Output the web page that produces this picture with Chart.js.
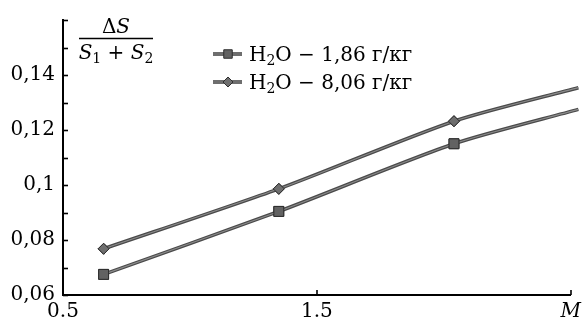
<!DOCTYPE html>
<html><head><meta charset="utf-8">
<script src="https://cdn.jsdelivr.net/npm/chart.js@4"></script>
<style>html,body{margin:0;padding:0;background:#fff}#w{width:586px;height:322px}</style>
</head><body><div id="w"><canvas id="c" width="586" height="322"></canvas></div>
<script>
// ---- data ----
const mValues = [0.66, 1.35, 2.04, 2.53];
const series186 = [0.0675, 0.0904, 0.1150, 0.1275];
const series806 = [0.0768, 0.0986, 0.1232, 0.1354];
const seriesLabels = ['H₂O − 1,86 г/кг', 'H₂O − 8,06 г/кг'];
const xTickValues = [0.5, 1.5, 2.5];
const xTickLabels = ['0.5', '1.5', 'M'];
const yTickValues = [0.06, 0.08, 0.10, 0.12, 0.14];
const yTickLabels = ['0,06', '0,08', '0,1', '0,12', '0,14'];
const yTitleNum = 'ΔS';
const yTitleDen = 'S₁ + S₂';

const FONT = '"DejaVu Serif", "Liberation Serif", serif';
const FS = 20;
const LINE = '#4a4a4a';
const LINE_INNER = '#8c8c8c';

function toPts(ys){ return mValues.map((m,i)=>({x:m,y:ys[i]})); }

function drawRich(ctx, text, x, y, size, italicLetters){
  const subs = '₀₁₂₃₄₅₆₇₈₉';
  let cx = x;
  for (const ch of text){
    const si = subs.indexOf(ch);
    if (si >= 0){
      ctx.font = Math.round(size*0.7) + 'px ' + FONT;
      ctx.fillText(String(si), cx, y + size*0.22);
      cx += ctx.measureText(String(si)).width;
    } else {
      const it = italicLetters && /[A-Za-z]/.test(ch);
      ctx.font = (it ? 'italic ' : '') + size + 'px ' + FONT;
      ctx.fillText(ch, cx, y);
      cx += ctx.measureText(ch).width;
    }
  }
  return cx - x;
}
function measureRich(ctx, text, size, italicLetters){
  const subs = '₀₁₂₃₄₅₆₇₈₉';
  let w = 0;
  for (const ch of text){
    const si = subs.indexOf(ch);
    if (si >= 0){ ctx.font = Math.round(size*0.7)+'px '+FONT; w += ctx.measureText(String(si)).width; }
    else { const it = italicLetters && /[A-Za-z]/.test(ch); ctx.font=(it?'italic ':'')+size+'px '+FONT; w += ctx.measureText(ch).width; }
  }
  return w;
}

const decor = {
  id: 'decor',
  afterDatasetsDraw(chart){
    const ctx = chart.ctx;
    ctx.save();
    chart.data.datasets.forEach((ds, i)=>{
      const meta = chart.getDatasetMeta(i);
      ctx.strokeStyle = LINE_INNER; ctx.lineWidth = 1.1; ctx.lineJoin = 'round';
      ctx.beginPath(); meta.dataset.path(ctx); ctx.stroke();
      meta.data.forEach(p => p.draw(ctx, chart.chartArea));
    });
    ctx.restore();
  },
  afterDraw(chart){
    const {ctx, chartArea:a, scales:{x, y}} = chart;
    ctx.save();
    ctx.strokeStyle = '#000'; ctx.lineWidth = 1.6;
    for (let v = 0.06; v <= 0.1601; v += 0.01){
      const py = Math.round(y.getPixelForValue(v)) + 0.5;
      ctx.beginPath(); ctx.moveTo(a.left, py); ctx.lineTo(a.left + 5, py); ctx.stroke();
    }
    xTickValues.forEach(v=>{
      const px = Math.round(x.getPixelForValue(v));
      ctx.beginPath(); ctx.moveTo(px, a.bottom); ctx.lineTo(px, a.bottom - 5); ctx.stroke();
    });
    // y title as fraction
    ctx.fillStyle = '#000'; ctx.textBaseline = 'alphabetic';
    const size = FS;
    const barL = a.left + 16, barR = a.left + 90, cx = (barL + barR)/2;
    ctx.font = size + 'px ' + FONT;
    const wD = ctx.measureText('Δ').width;
    ctx.font = 'italic ' + size + 'px ' + FONT;
    const wS = ctx.measureText('S').width;
    let nx = cx - (wD + wS)/2;
    ctx.font = size + 'px ' + FONT; ctx.fillText('Δ', nx, 33);
    ctx.font = 'italic ' + size + 'px ' + FONT; ctx.fillText('S', nx + wD, 33);
    ctx.lineWidth = 1.3;
    ctx.beginPath(); ctx.moveTo(barL, 38.5); ctx.lineTo(barR, 38.5); ctx.stroke();
    const wDen = measureRich(ctx, yTitleDen, size, true);
    drawRich(ctx, yTitleDen, cx - wDen/2, 59, size, true);
    // legend
    chart.data.datasets.forEach((ds, i)=>{
      const ly = 54 + 28*i;
      ctx.strokeStyle = ds.borderColor; ctx.lineWidth = ds.borderWidth;
      ctx.beginPath(); ctx.moveTo(213, ly); ctx.lineTo(242, ly); ctx.stroke();
      ctx.strokeStyle = LINE_INNER; ctx.lineWidth = 1.1;
      ctx.beginPath(); ctx.moveTo(213, ly); ctx.lineTo(242, ly); ctx.stroke();
      ctx.fillStyle = ds.pointBackgroundColor; ctx.strokeStyle = ds.pointBorderColor;
      ctx.lineWidth = 1;
      Chart.helpers.drawPoint(ctx, {pointStyle: ds.pointStyle, radius: ds.legendRadius, rotation: 0, borderWidth: 1}, 228, ly);
      ctx.fillStyle = '#000';
      drawRich(ctx, ds.label, 249, ly + 7, FS, false);
    });
    ctx.restore();
  }
};

new Chart(document.getElementById('c'), {
  type: 'scatter',
  data: {
    datasets: [
      { label: seriesLabels[0], data: toPts(series186), showLine: true,
        borderColor: LINE, borderWidth: 3.6, tension: 0.25,
        pointStyle: 'rect', pointRadius: [7,7,7,0], legendRadius: 6,
        pointBackgroundColor: '#626262', pointBorderColor: '#2e2e2e', pointBorderWidth: 1,
        clip: false },
      { label: seriesLabels[1], data: toPts(series806), showLine: true,
        borderColor: LINE, borderWidth: 3.6, tension: 0.25,
        pointStyle: 'rectRot', pointRadius: [5.5,5.5,5.5,0], legendRadius: 5,
        pointBackgroundColor: '#6e6e6e', pointBorderColor: '#2e2e2e', pointBorderWidth: 1,
        clip: false }
    ]
  },
  options: {
    responsive: false, animation: false, events: [],
    layout: { padding: { top: 14, right: 9, left: 0, bottom: 0 } },
    plugins: { legend: { display: false }, tooltip: { enabled: false } },
    scales: {
      x: {
        type: 'linear', min: 0.5, max: 2.5,
        afterBuildTicks(s){ s.ticks = xTickValues.map(v=>({value:v})); },
        afterFit(s){ s.height = 27; },
        grid: { display: false, drawTicks: false },
        border: { display: true, color: '#000', width: 2 },
        ticks: {
          padding: 5, color: '#000', maxRotation: 0, autoSkip: false,
          font: (c)=> ({ family: FONT, size: FS, style: c.index === 2 ? 'italic' : 'normal' }),
          callback: (v, i)=> xTickLabels[i]
        }
      },
      y: {
        type: 'linear', min: 0.06, max: 0.16,
        afterBuildTicks(s){ s.ticks = yTickValues.map(v=>({value:v})); },
        afterFit(s){ s.width = 63; },
        grid: { display: false, drawTicks: false },
        border: { display: true, color: '#000', width: 2 },
        ticks: {
          padding: 8, color: '#000', autoSkip: false,
          font: { family: FONT, size: FS },
          callback: (v, i)=> yTickLabels[i]
        }
      }
    }
  },
  plugins: [decor]
});
</script></body></html>
